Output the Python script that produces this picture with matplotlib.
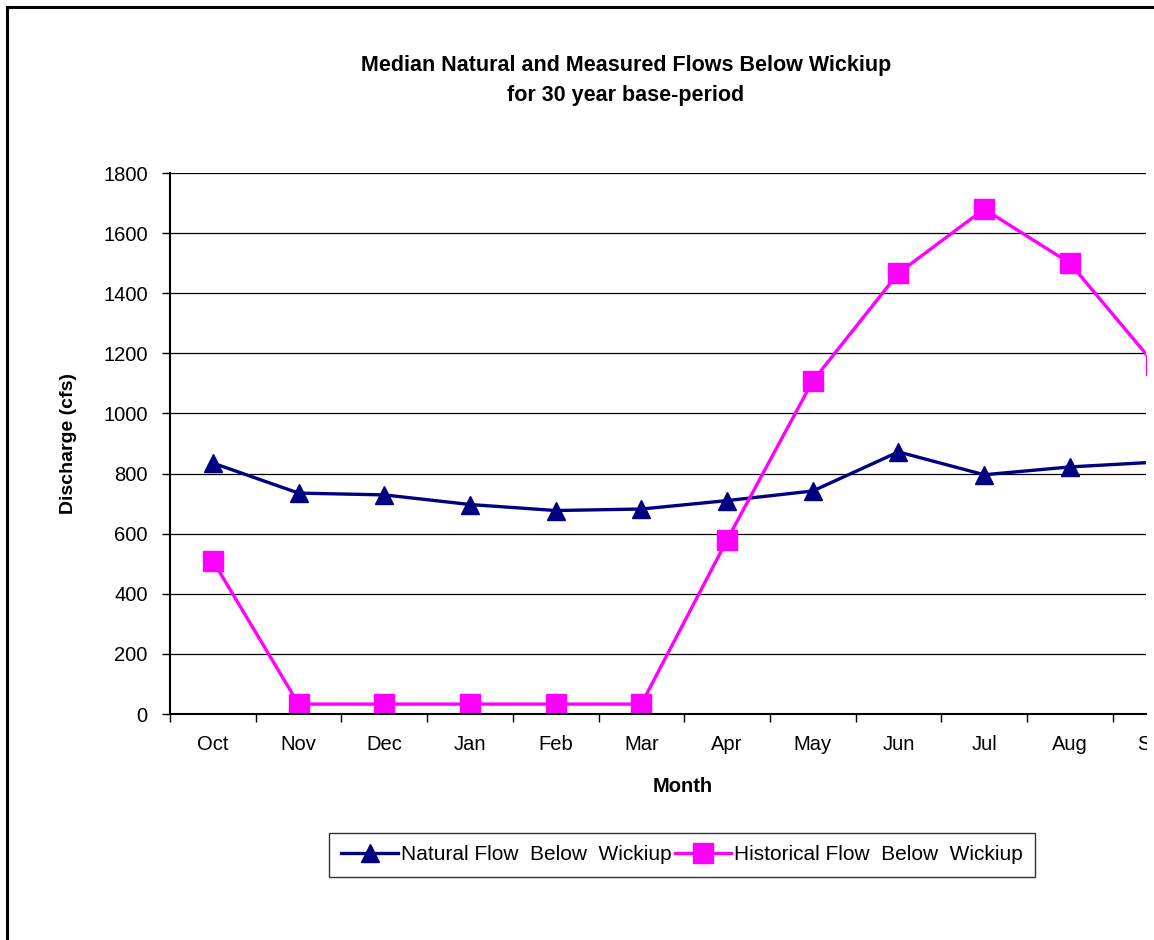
import matplotlib.pyplot as plt
from matplotlib.patches import Rectangle
from matplotlib.ticker import FixedLocator

plt.rcParams['font.family'] = ['Liberation Sans', 'DejaVu Sans']

# --- Data ---
months = ["Oct", "Nov", "Dec", "Jan", "Feb", "Mar", "Apr", "May", "Jun", "Jul", "Aug", "Sep"]
natural_flow = [835, 735, 729, 697, 677, 682, 710, 742, 872, 796, 822, 838]
historical_flow = [510, 33, 33, 33, 33, 33, 579, 1108, 1467, 1680, 1500, 1160]

W, H = 1154, 940
fig = plt.figure(figsize=(W / 100, H / 100), dpi=100)

# outer chart border (cropped on the right and bottom)
fig.patches.append(Rectangle((7 / W, -0.1), 1.2, 1 - 7 / H + 0.1, transform=fig.transFigure,
                             fill=False, edgecolor="black", linewidth=2.2))

step = 85.7
ax = fig.add_axes([170 / W, 1 - 714 / H, (1146 - 170) / W, (714 - 173) / H])

x = list(range(len(months)))
ax.plot(x, natural_flow, color="#000080", linewidth=2.4, marker="^", markersize=13,
        label="Natural Flow  Below  Wickiup")
ax.plot(x, historical_flow, color="#FF00FF", linewidth=2.4, marker="s", markersize=14,
        label="Historical Flow  Below  Wickiup")

ax.set_ylim(0, 1800)
ax.set_xlim(-0.5, (1146 - 170) / step - 0.5)
ax.set_yticks(range(0, 1801, 200))
ax.yaxis.grid(True, color="black", linewidth=0.9)
ax.set_axisbelow(True)

# last month (Sep) falls outside the visible area, label drawn separately
ax.set_xticks(x[:-1])
ax.set_xticklabels(months[:-1], fontsize=14.5)
ax.xaxis.set_minor_locator(FixedLocator([i - 0.5 for i in range(len(months) + 1)]))
ax.tick_params(axis="x", which="major", length=0, pad=15)
ax.tick_params(axis="x", which="minor", length=6, width=1, direction="out")
ax.tick_params(axis="y", labelsize=14.5, length=6, width=1, direction="out", pad=10)

for s in ["top", "right"]:
    ax.spines[s].set_visible(False)
for s in ["left", "bottom"]:
    ax.spines[s].set_linewidth(1.5)

# partial "Sep" label cut at the right edge
sep = ax.text(x[-1], 1 - (745 - 173) / (714 - 173), months[-1], transform=ax.get_xaxis_transform(),
              ha="center", va="center", fontsize=14.5)
sep.set_clip_path(Rectangle((0, 0), 1147 / W, 1, transform=fig.transFigure))
sep.set_clip_on(True)

ax.set_ylabel("Discharge (cfs)", fontsize=14, fontweight="bold")
ax.yaxis.set_label_coords(-(170 - 77) / (1146 - 170), 0.5)
fig.text(683 / W, 1 - 787 / H, "Month", ha="center", va="center", fontsize=14.5, fontweight="bold")

fig.text(626 / W, 1 - 65 / H, "Median Natural and Measured Flows Below Wickiup",
         ha="center", va="center", fontsize=15.5, fontweight="bold")
fig.text(626 / W, 1 - 96 / H, "for 30 year base-period",
         ha="center", va="center", fontsize=15.5, fontweight="bold")

leg = fig.legend(loc="center", bbox_to_anchor=(682 / W, 1 - 855 / H), ncol=2,
                 fontsize=15, frameon=True, fancybox=False, edgecolor="black",
                 handlelength=2.7, handletextpad=0.15, columnspacing=0.15, borderpad=0.6)
leg.get_frame().set_linewidth(1.0)

fig.savefig("out.png", dpi=100)
plt.close(fig)
